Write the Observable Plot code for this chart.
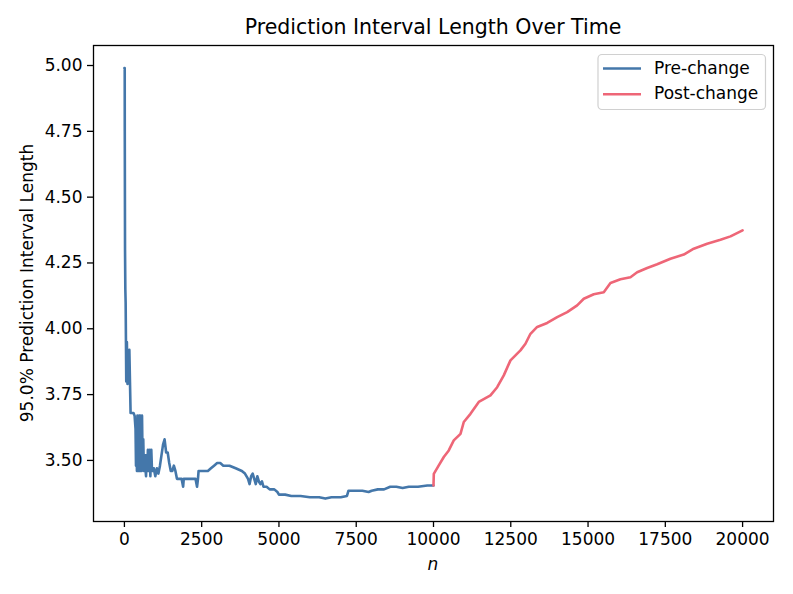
<!DOCTYPE html>
<html>
<head>
<meta charset="utf-8">
<script src="https://cdn.jsdelivr.net/npm/d3@7"></script>
<script src="https://cdn.jsdelivr.net/npm/@observablehq/plot@0.6"></script>
<style>
  html, body { margin: 0; padding: 0; background: #fff; }
  #chart { width: 793px; height: 594px; }
  svg { font-family: "DejaVu Sans", sans-serif; color: #000; }
</style>
</head>
<body>
<div id="chart"></div>
<script>
// ---- data ----
const preN = [0, 10, 12, 20, 30, 40, 50, 60, 80, 100, 120, 140, 160, 180, 200, 294, 330, 360, 375, 390, 405, 420, 435, 450, 465, 480, 495, 510, 525, 540, 555, 570, 590, 610, 630, 650, 680, 700, 720, 740, 760, 790, 820, 840, 870, 890, 920, 950, 1000, 1050, 1100, 1150, 1200, 1250, 1300, 1350, 1400, 1450, 1500, 1550, 1600, 1650, 1700, 1800, 1850, 1900, 1920, 2000, 2100, 2200, 2300, 2350, 2380, 2400, 2500, 2700, 2800, 2900, 3000, 3100, 3200, 3400, 3600, 3800, 3900, 4000, 4050, 4100, 4150, 4200, 4250, 4300, 4350, 4400, 4450, 4500, 4600, 4700, 4850, 4950, 5000, 5200, 5400, 5700, 6000, 6300, 6500, 6700, 7000, 7200, 7250, 7500, 7700, 7900, 8000, 8200, 8400, 8600, 8800, 9000, 9200, 9500, 9800, 9999];
const preV = [4.99, 4.99, 4.75, 4.30, 4.15, 4.10, 3.95, 3.80, 3.95, 3.79, 3.90, 3.80, 3.92, 3.80, 3.68, 3.68, 3.67, 3.62, 3.48, 3.64, 3.46, 3.67, 3.47, 3.60, 3.46, 3.67, 3.46, 3.67, 3.47, 3.62, 3.46, 3.67, 3.48, 3.58, 3.46, 3.52, 3.47, 3.44, 3.52, 3.46, 3.54, 3.46, 3.54, 3.44, 3.54, 3.47, 3.46, 3.47, 3.44, 3.47, 3.45, 3.48, 3.52, 3.56, 3.58, 3.53, 3.53, 3.49, 3.46, 3.46, 3.48, 3.46, 3.43, 3.43, 3.43, 3.40, 3.43, 3.43, 3.43, 3.43, 3.43, 3.40, 3.43, 3.46, 3.46, 3.46, 3.47, 3.48, 3.49, 3.49, 3.48, 3.48, 3.47, 3.46, 3.45, 3.43, 3.41, 3.44, 3.45, 3.43, 3.41, 3.44, 3.42, 3.41, 3.42, 3.40, 3.40, 3.39, 3.39, 3.38, 3.37, 3.37, 3.365, 3.365, 3.36, 3.36, 3.355, 3.36, 3.36, 3.365, 3.385, 3.385, 3.385, 3.38, 3.385, 3.39, 3.39, 3.40, 3.40, 3.395, 3.40, 3.40, 3.405, 3.405];
const postN = [10000, 10010, 10171, 10333, 10494, 10656, 10873, 10980, 11196, 11465, 11843, 12060, 12274, 12490, 12813, 12975, 13137, 13354, 13678, 14001, 14325, 14648, 14862, 15185, 15509, 15725, 16049, 16372, 16589, 16913, 17236, 17666, 18097, 18420, 18854, 19284, 19608, 19999];
const postV = [3.405, 3.449, 3.481, 3.513, 3.538, 3.576, 3.601, 3.646, 3.677, 3.722, 3.747, 3.778, 3.823, 3.880, 3.918, 3.943, 3.981, 4.007, 4.022, 4.044, 4.063, 4.089, 4.114, 4.131, 4.139, 4.174, 4.188, 4.196, 4.215, 4.231, 4.245, 4.266, 4.282, 4.304, 4.323, 4.338, 4.351, 4.374];
const xTicks = [0, 2500, 5000, 7500, 10000, 12500, 15000, 17500, 20000];
const yTicks = [3.50, 3.75, 4.00, 4.25, 4.50, 4.75, 5.00];
const seriesNames = ["Pre-change", "Post-change"];
const seriesColors = ["#4477AA", "#EE6677"];

const pre = preN.map((n, i) => ({n, v: preV[i]}));
const post = postN.map((n, i) => ({n, v: postV[i]}));

const W = 793, H = 594, mL = 93, mR = 20, mT = 45, mB = 73;

const chart = Plot.plot({
  width: W, height: H,
  marginLeft: mL, marginRight: mR, marginTop: mT, marginBottom: mB,
  style: {fontFamily: "DejaVu Sans, sans-serif", fontSize: "17px", color: "#000", background: "#fff"},
  x: {domain: [-1000, 21000]},
  y: {domain: [3.268, 5.076]},
  marks: [
    Plot.line(pre, {x: "n", y: "v", stroke: seriesColors[0], strokeWidth: 2.6, strokeLinejoin: "round"}),
    Plot.line(post, {x: "n", y: "v", stroke: seriesColors[1], strokeWidth: 2.6, strokeLinejoin: "round"}),
    Plot.frame({stroke: "#000", strokeWidth: 1.3}),
    Plot.axisX({ticks: xTicks, tickFormat: d3.format("d"), tickSize: 6, tickPadding: 5, strokeWidth: 1.3, fontSize: 17, label: null}),
    Plot.axisY({ticks: yTicks, tickFormat: d3.format(".2f"), tickSize: 6, tickPadding: 5, strokeWidth: 1.3, fontSize: 17, label: null})
  ]
});

document.getElementById("chart").appendChild(chart);

const svg = d3.select(chart);
const cx = (mL + (W - mR)) / 2;
svg.append("text").attr("x", cx).attr("y", 28).attr("text-anchor", "middle")
  .attr("dominant-baseline", "middle").attr("font-size", 20.5).attr("fill", "#000")
  .text("Prediction Interval Length Over Time");
svg.append("text").attr("x", cx).attr("y", 565).attr("text-anchor", "middle")
  .attr("dominant-baseline", "middle").attr("font-size", 17).attr("font-style", "italic").attr("fill", "#000")
  .text("n");
svg.append("text").attr("transform", `translate(28,${(mT + H - mB) / 2}) rotate(-90)`)
  .attr("text-anchor", "middle").attr("dominant-baseline", "middle").attr("font-size", 17).attr("fill", "#000")
  .text("95.0% Prediction Interval Length");

// legend
const lg = svg.append("g");
lg.append("rect").attr("x", 598).attr("y", 54.5).attr("width", 167.5).attr("height", 55)
  .attr("rx", 4).attr("fill", "#fff").attr("fill-opacity", 0.8).attr("stroke", "#d0d0d0").attr("stroke-width", 1.2);
seriesNames.forEach((name, i) => {
  const y = 68.5 + i * 25.7;
  lg.append("line").attr("x1", 603).attr("x2", 641).attr("y1", y).attr("y2", y)
    .attr("stroke", seriesColors[i]).attr("stroke-width", 2.6);
  lg.append("text").attr("x", 654).attr("y", y).attr("text-anchor", "start").attr("dominant-baseline", "middle")
    .attr("font-size", 17).attr("fill", "#000").text(name);
});
</script>
</body>
</html>
